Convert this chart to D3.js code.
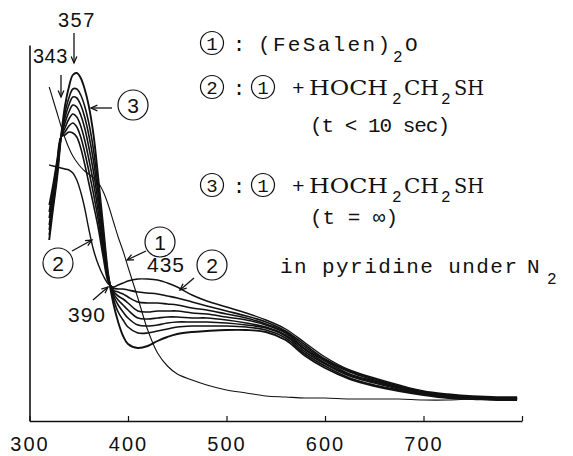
<!DOCTYPE html>
<html><head><meta charset="utf-8">
<script src="https://cdn.jsdelivr.net/npm/d3@7"></script>
<style>body{margin:0;background:#fff}</style>
</head><body>
<svg id="chart" width="573" height="456"></svg>
<script>
// wavelength grid (nm)
const wavelengths = [320,324,328,332,336,340,344,348,352,356,360,365,370,375,380,385,390,395,400,410,420,430,440,450,465,480,500,520,540,560,580,600,625,650,675,700,725,750,775,795];
// (1) (FeSalen)2O
const curve1 = [3.34,3.21,3.08,2.95,2.83,2.73,2.65,2.59,2.54,2.50,2.47,2.43,2.38,2.29,2.16,2.00,1.84,1.70,1.54,1.23,0.91,0.68,0.55,0.47,0.41,0.36,0.31,0.28,0.25,0.24,0.23,0.23,0.22,0.22,0.22,0.21,0.21,0.22,0.22,0.22];
// (2) t < 10 sec
const curve2 = [2.56,2.55,2.54,2.53,2.52,2.51,2.48,2.41,2.29,2.13,1.93,1.71,1.56,1.45,1.37,1.34,1.36,1.38,1.40,1.42,1.42,1.41,1.38,1.34,1.26,1.20,1.14,1.08,1.01,0.92,0.78,0.64,0.51,0.43,0.36,0.30,0.27,0.25,0.24,0.24];
// intermediate scans
const scan1 = [2.16,2.37,2.61,2.84,2.86,2.89,2.88,2.84,2.73,2.57,2.39,2.16,1.92,1.63,1.39,1.33,1.32,1.32,1.31,1.29,1.28,1.27,1.25,1.23,1.19,1.15,1.10,1.05,0.99,0.90,0.76,0.62,0.50,0.42,0.35,0.29,0.26,0.24,0.23,0.23];
const scan2 = [2.09,2.33,2.58,2.84,2.89,2.95,2.98,2.94,2.84,2.69,2.51,2.27,2.00,1.68,1.41,1.31,1.29,1.27,1.24,1.19,1.18,1.18,1.17,1.16,1.13,1.11,1.07,1.03,0.97,0.89,0.74,0.61,0.49,0.41,0.34,0.29,0.26,0.24,0.23,0.23];
const scan3 = [2.03,2.29,2.55,2.84,2.93,3.02,3.07,3.04,2.95,2.81,2.63,2.38,2.08,1.73,1.42,1.30,1.25,1.22,1.18,1.10,1.09,1.10,1.10,1.10,1.08,1.07,1.04,1.01,0.96,0.88,0.72,0.60,0.47,0.40,0.34,0.29,0.26,0.24,0.23,0.23];
const scan4 = [1.96,2.25,2.52,2.84,2.98,3.09,3.16,3.14,3.06,2.93,2.75,2.49,2.16,1.78,1.43,1.28,1.21,1.16,1.11,1.03,1.02,1.03,1.04,1.04,1.03,1.03,1.01,0.98,0.94,0.86,0.71,0.58,0.46,0.39,0.33,0.28,0.25,0.23,0.23,0.23];
const scan5 = [1.91,2.21,2.49,2.84,3.03,3.16,3.24,3.23,3.16,3.04,2.87,2.60,2.24,1.83,1.44,1.26,1.16,1.09,1.03,0.96,0.95,0.96,0.98,0.99,0.99,0.99,0.98,0.96,0.93,0.85,0.69,0.57,0.45,0.38,0.32,0.28,0.25,0.23,0.22,0.22];
const scan6 = [1.86,2.16,2.46,2.84,3.08,3.23,3.32,3.32,3.26,3.15,2.99,2.71,2.31,1.88,1.45,1.23,1.09,1.01,0.94,0.88,0.88,0.90,0.92,0.94,0.95,0.95,0.95,0.94,0.91,0.83,0.67,0.55,0.43,0.36,0.31,0.27,0.24,0.23,0.22,0.22];
// (3) t = infinity
const curve3 = [1.81,2.13,2.43,2.84,3.15,3.34,3.46,3.48,3.43,3.32,3.16,2.86,2.41,1.93,1.46,1.18,0.99,0.85,0.77,0.73,0.75,0.80,0.84,0.87,0.89,0.90,0.91,0.91,0.89,0.81,0.65,0.53,0.42,0.35,0.30,0.26,0.23,0.22,0.21,0.21];

const xTickValues = [300,400,500,600,700,800];
const xTickLabels = ["300","400","500","600","700",""];

const svg = d3.select("#chart");
const x = d3.scaleLinear().domain([300,800]).range([29.5,522]);
const y = d3.scaleLinear().domain([0,3.76]).range([421,45]);

const INK = "#111";
const SANS = "'Liberation Sans', Arial, sans-serif";
const MONO = "'Liberation Mono', 'DejaVu Sans Mono', monospace";
const SERIF = "'DejaVu Serif', 'Liberation Serif', serif";

// axes
const gy = svg.append("g").attr("transform", `translate(${x(300)},0)`)
  .call(d3.axisLeft(y).tickValues([]).tickSizeOuter(0));
gy.select(".domain").attr("stroke", INK).attr("stroke-width", 1.6);

const gx = svg.append("g").attr("transform", `translate(0,${y(0)})`)
  .call(d3.axisBottom(x).tickValues(xTickValues).tickSizeInner(-5).tickSizeOuter(0)
    .tickPadding(16).tickFormat((d,i)=>xTickLabels[i]));
gx.select(".domain").attr("stroke", INK).attr("stroke-width", 1.6);
gx.selectAll(".tick line").attr("stroke", INK).attr("stroke-width", 1.2);
gx.selectAll(".tick text").attr("fill", INK).attr("font-family", SANS)
  .attr("font-size", 20).attr("letter-spacing", 2);

// spectra
const series = [
  {values: curve2, w: 1.4},
  {values: scan1, w: 1.6},
  {values: scan2, w: 1.6},
  {values: scan3, w: 1.6},
  {values: scan4, w: 1.6},
  {values: scan5, w: 1.6},
  {values: scan6, w: 1.6},
  {values: curve3, w: 1.9},
  {values: curve1, w: 1.1}
];
const line = d3.line().x((d,i)=>x(wavelengths[i])).y(d=>y(d)).curve(d3.curveCatmullRom.alpha(0.5));
svg.append("g").selectAll("path").data(series).join("path")
  .attr("d", d=>line(d.values)).attr("fill","none").attr("stroke", INK)
  .attr("stroke-width", d=>d.w).attr("stroke-linejoin","round");

// annotation helpers
function arrow(x1,y1,x2,y2){
  const g = svg.append("g").attr("stroke", INK).attr("stroke-width",1.3).attr("fill","none");
  g.append("line").attr("x1",x1).attr("y1",y1).attr("x2",x2).attr("y2",y2);
  const a = Math.atan2(y2-y1,x2-x1), L=7, s=0.42;
  g.append("path").attr("d",`M${x2-L*Math.cos(a-s)},${y2-L*Math.sin(a-s)}L${x2},${y2}L${x2-L*Math.cos(a+s)},${y2-L*Math.sin(a+s)}`);
}
function circled(cx,cy,r,label,font,size){
  svg.append("circle").attr("cx",cx).attr("cy",cy).attr("r",r)
    .attr("fill","none").attr("stroke",INK).attr("stroke-width",1.2);
  svg.append("text").attr("x",cx).attr("y",cy).attr("dy","0.36em")
    .attr("text-anchor","middle").attr("font-family",font).attr("font-size",size)
    .attr("fill",INK).text(label);
}
function txt(x0,y0,s,font,size,opts={}){
  const t = svg.append("text").attr("x",x0).attr("y",y0).attr("font-family",font)
    .attr("font-size",size).attr("fill",INK).text(s);
  if(opts.len){ t.attr("textLength",opts.len).attr("lengthAdjust", opts.adj||"spacingAndGlyphs"); }
  if(opts.ls){ t.attr("letter-spacing",opts.ls); }
  if(opts.anchor){ t.attr("text-anchor",opts.anchor); }
  return t;
}

// peak / isosbestic labels
txt(58,27,"357",SANS,20,{ls:1.5});
arrow(74,33,74,63);
txt(33,63,"343",SANS,20,{ls:0.5});
arrow(61,75,61,97);
txt(147,272,"435",SANS,21,{ls:1});
txt(68,322,"390",SANS,21,{ls:1});
arrow(93,300,108,287);

// circled curve labels in plot
circled(133,105,15,"3",SANS,21);
arrow(112,108,91,108);
circled(58,263,15,"2",SANS,21);
arrow(72,251,92,240);
circled(160,242,15,"1",SANS,21);
arrow(146,251,127,260);
circled(212,265,15,"2",SANS,21);
arrow(194,278,180,290);

// legend
const LF = 21;
circled(212,43,11.5,"1",MONO,19);
txt(239,51,":",MONO,LF,{anchor:"middle"});
txt(258,51,"(FeSalen)",MONO,LF,{len:132,adj:"spacing"});
txt(393,62,"2",MONO,16);
txt(405,51,"O",MONO,LF);

function reagentRow(cy,base,circ){
  circled(212,cy,11.5,circ,MONO,19);
  txt(239,base,":",MONO,LF,{anchor:"middle"});
  circled(263,cy,11.5,"1",MONO,19);
  txt(292,base,"+",MONO,LF);
  txt(309,base,"HOCH",SERIF,20,{len:79});
  txt(392,base+9,"2",MONO,16);
  txt(404,base,"CH",SERIF,20,{len:35});
  txt(441,base+9,"2",MONO,16);
  txt(454,base,"SH",SERIF,20,{len:30});
}
reagentRow(87,95,"2");
txt(310,132,"(t < 10 sec)",MONO,LF,{len:140,adj:"spacing"});
reagentRow(185,193,"3");
txt(310,224,"(t = \u221e)",MONO,LF,{len:88,adj:"spacing"});
txt(280,273,"in pyridine under",MONO,LF,{len:237,adj:"spacing"});
txt(527,273,"N",MONO,LF);
txt(547,284,"2",MONO,16);
</script>
</body></html>
